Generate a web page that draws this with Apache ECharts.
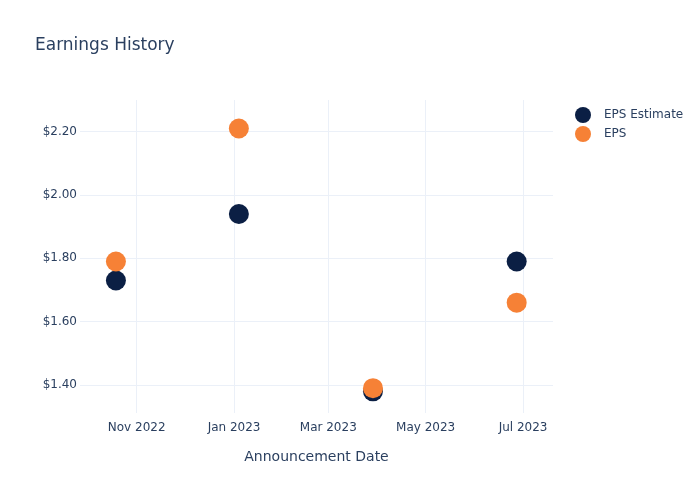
<!DOCTYPE html>
<html>
<head>
<meta charset="utf-8">
<script src="https://cdn.jsdelivr.net/npm/echarts@6/dist/echarts.min.js"></script>
<style>html,body{margin:0;padding:0;background:#fff}#c{width:700px;height:500px}</style>
</head>
<body>
<div id="c"></div>
<script>
const announcementDates = ['2022-10-19', '2023-01-04', '2023-03-29', '2023-06-27'];
const epsEstimate = [1.73, 1.94, 1.38, 1.79];
const epsActual = [1.79, 2.21, 1.39, 1.66];
const xTickDates = ['2022-11-01', '2023-01-01', '2023-03-01', '2023-05-01', '2023-07-01'];
const yTickValues = [1.40, 1.60, 1.80, 2.00, 2.20];
const monthNames = ['Jan','Feb','Mar','Apr','May','Jun','Jul','Aug','Sep','Oct','Nov','Dec'];

function ts(s) { const p = s.split('-').map(Number); return Date.UTC(p[0], p[1]-1, p[2]); }
const xTicks = xTickDates.map(ts);
const textColor = '#2a3f5f';
const gridColor = '#EBF0F8';
const font = 'DejaVu Sans';

const chart = echarts.init(document.getElementById('c'), null, {renderer: 'canvas'});
chart.setOption({
  animation: false,
  backgroundColor: '#fff',
  title: {
    text: 'Earnings History', left: 30, top: 32,
    textStyle: {fontFamily: font, fontSize: 17, fontWeight: 'normal', color: textColor}
  },
  legend: {
    orient: 'vertical', left: 570, top: 102,
    itemWidth: 16, itemHeight: 16, itemGap: 3,
    icon: 'circle',
    textStyle: {fontFamily: font, fontSize: 12, color: textColor, padding: [0,0,0,8]},
    data: ['EPS Estimate', 'EPS']
  },
  grid: {left: 80, right: 147, top: 100, bottom: 87, containLabel: false},
  xAxis: {
    type: 'value',
    min: Date.UTC(2022, 8, 26, 12),
    max: Date.UTC(2023, 6, 19, 18),
    name: 'Announcement Date', nameLocation: 'middle', nameGap: 37,
    nameTextStyle: {fontFamily: font, fontSize: 14, color: textColor},
    axisLine: {show: false},
    axisTick: {show: false, customValues: xTicks},
    splitLine: {show: true, lineStyle: {color: gridColor, width: 1}},
    axisLabel: {
      customValues: xTicks, margin: 9,
      fontFamily: font, fontSize: 12, color: textColor,
      formatter: function (v) { const d = new Date(v); return monthNames[d.getUTCMonth()] + ' ' + d.getUTCFullYear(); }
    }
  },
  yAxis: {
    type: 'value', min: 1.3116, max: 2.300,
    axisLine: {show: false},
    axisTick: {show: false, customValues: yTickValues},
    splitLine: {show: true, lineStyle: {color: gridColor, width: 1}},
    axisLabel: {
      customValues: yTickValues, margin: 3,
      fontFamily: font, fontSize: 12, color: textColor,
      formatter: function (v) { return '$' + v.toFixed(2); }
    }
  },
  series: [
    {
      name: 'EPS Estimate', type: 'scatter', symbolSize: 20,
      itemStyle: {color: '#0b1f44', opacity: 1},
      data: announcementDates.map((d, i) => [ts(d), epsEstimate[i]])
    },
    {
      name: 'EPS', type: 'scatter', symbolSize: 20,
      itemStyle: {color: '#f68136', opacity: 1},
      data: announcementDates.map((d, i) => [ts(d), epsActual[i]])
    }
  ]
});
</script>
</body>
</html>
